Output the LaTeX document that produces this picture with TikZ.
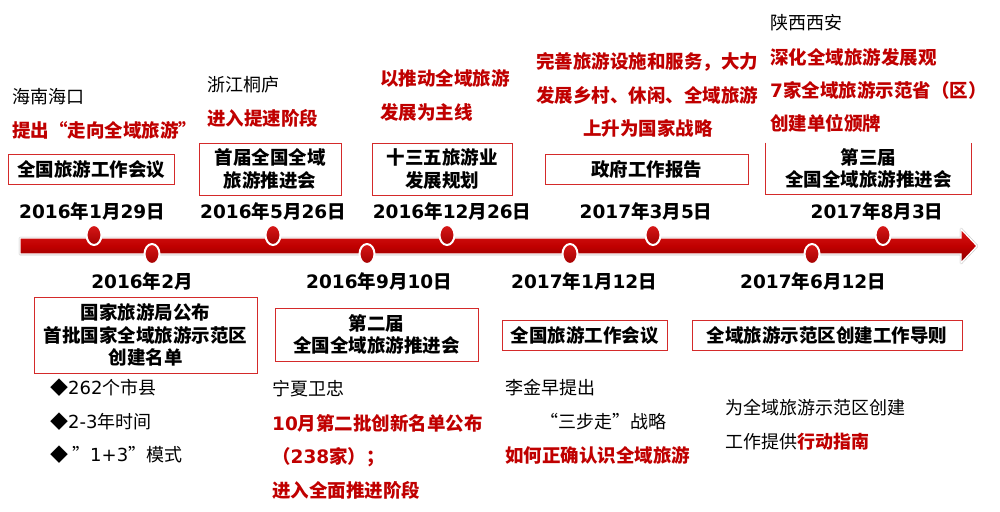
\documentclass[tikz,border=0pt]{standalone}
\usepackage{fontspec}
\setmainfont{Noto Sans CJK SC}
\newfontfamily\dv{DejaVu Sans}
\usetikzlibrary{shapes.geometric}
\definecolor{tred}{HTML}{C00000}
\definecolor{bred}{HTML}{D42A2A}
\definecolor{bartop}{HTML}{D81818}
\definecolor{barbot}{HTML}{8A0000}
\newcommand{\dnum}[1]{{\dv #1}}
\newcommand{\dmy}[3]{\dnum{#1}年\dnum{#2}月\dnum{#3}日}
\tikzset{
 box/.style={draw=bred, line width=1pt, inner sep=0pt, align=center,
   font=\fontsize{18.5}{22.5}\selectfont\bfseries},
 datelbl/.style={font=\fontsize{18.5}{22}\selectfont\bfseries, inner sep=0pt},
 plain/.style={anchor=west, inner sep=0pt, font=\fontsize{18}{22}\selectfont},
 redb/.style={anchor=west, inner sep=0pt, text=tred, font=\fontsize{18.5}{22}\selectfont\bfseries},
 dot/.style={ellipse, minimum width=15pt, minimum height=20pt, inner sep=0pt,
   draw=white, line width=2pt, top color=bartop, bottom color=tred!85!black},
}
\begin{document}
\begin{tikzpicture}[x=1pt,y=-1pt]
\useasboundingbox[fill=white] (0,0) rectangle (1000,511);
% ---- timeline bar ----
\coordinate (b1) at (20,238);
\coordinate (b2) at (961,238);
\coordinate (b3) at (961,229);
\coordinate (b4) at (977,246);
\coordinate (b5) at (961,263);
\coordinate (b6) at (961,254);
\coordinate (b7) at (20,254);
\begin{scope}[shift={(1.2,1.8)}]
\draw[black!22, line width=2.5pt, line join=round] (b1) -- (b2) -- (b3) -- (b4) -- (b5) -- (b6) -- (b7) -- cycle;
\end{scope}
\draw[white, line width=1.3pt, top color=bartop, bottom color=barbot, middle color=tred]
  (b1) -- (b2) -- (b3) -- (b4) -- (b5) -- (b6) -- (b7) -- cycle;
% ---- dots ----
\node[dot] (d1) at (94,235) {};
\node[dot] (d2) at (152,254) {};
\node[dot] (d3) at (273,235) {};
\node[dot] (d4) at (367,254) {};
\node[dot] (d5) at (447,235) {};
\node[dot] (d6) at (570,254) {};
\node[dot] (d7) at (653,235) {};
\node[dot] (d8) at (812,254) {};
\node[dot] (d9) at (883,235) {};
% ---- dates ----
\node[datelbl] (t1) at (92,211) {\dmy{2016}{1}{29}};
\node[datelbl] (t3) at (273,211) {\dmy{2016}{5}{26}};
\node[datelbl] (t5) at (452,211) {\dmy{2016}{12}{26}};
\node[datelbl] (t7) at (646,211) {\dmy{2017}{3}{5}};
\node[datelbl] (t9) at (877,211) {\dmy{2017}{8}{3}};
\node[datelbl] (t2) at (142,281) {\dnum{2016}年\dnum{2}月};
\node[datelbl] (t4) at (379,281) {\dmy{2016}{9}{10}};
\node[datelbl] (t6) at (584,281) {\dmy{2017}{1}{12}};
\node[datelbl] (t8) at (813,281) {\dmy{2017}{6}{12}};
% ---- top boxes ----
\node[box, minimum width=166pt, minimum height=30pt] (bA) at (91,169) {全国旅游工作会议};
\node[box, minimum width=142pt, minimum height=52pt] (bB) at (270,169) {首届全国全域\\旅游推进会};
\node[box, minimum width=140pt, minimum height=52pt] (bC) at (442,169) {十三五旅游业\\发展规划};
\node[box, minimum width=203pt, minimum height=30pt] (bD) at (646.5,169) {政府工作报告};
\node[box, draw=none, minimum width=205pt, minimum height=51pt] (bE) at (868.5,168.5) {第三届\\全国全域旅游推进会};
\draw[bred, line width=1pt] (bE.north west) -- (bE.south west) -- (bE.south east) -- (bE.north east);
% ---- bottom boxes ----
\node[box, minimum width=223pt, minimum height=76pt] (bF) at (145.5,335) {国家旅游局公布\\首批国家全域旅游示范区\\创建名单};
\node[box, minimum width=203pt, minimum height=53pt] (bG) at (376.5,334.5) {第二届\\全国全域旅游推进会};
\node[box, minimum width=165pt, minimum height=30pt] (bH) at (584.5,335) {全国旅游工作会议};
\node[box, minimum width=270pt, minimum height=30pt] (bI) at (827,335) {全域旅游示范区创建工作导则};
% ---- top annotations ----
\node[plain] (a1) at (12,97) {海南海口};
\node[redb] (a2) at (12,130) {提出“走向全域旅游”};
\node[plain] (a3) at (207,85) {浙江桐庐};
\node[redb] (a4) at (207,118) {进入提速阶段};
\node[redb] (a5) at (380,78) {以推动全域旅游};
\node[redb] (a6) at (380,112) {发展为主线};
\node[redb] (a7) at (536,62) {完善旅游设施和服务，大力};
\node[redb] (a8) at (536,95) {发展乡村、休闲、全域旅游};
\node[redb] (a9) at (583,128) {上升为国家战略};
\node[plain] (a10) at (770,23) {陕西西安};
\node[redb] (a11) at (770,57) {深化全域旅游发展观};
\node[redb] (a12) at (770,90) {\dnum{7}家全域旅游示范省（区）};
\node[redb] (a13) at (770,123) {创建单位颁牌};
% ---- bottom annotations ----
\node[plain] (c1) at (50,388) {◆\dnum{262}个市县};
\node[plain] (c2) at (50,422) {◆\dnum{2-3}年时间};
\node[plain] (c3) at (50,455) {◆ ”\dnum{1+3}”模式};
\node[plain] (c4) at (272,389) {宁夏卫忠};
\node[redb] (c5) at (272,423) {\dnum{10}月第二批创新名单公布};
\node[redb] (c6) at (272,457) {（\dnum{238}家）；};
\node[redb] (c7) at (272,490) {进入全面推进阶段};
\node[plain] (c8) at (505,388) {李金早提出};
\node[plain] (c9) at (540,422) {“三步走”战略};
\node[redb] (c10) at (505,455) {如何正确认识全域旅游};
\node[plain] (c11) at (725,408) {为全域旅游示范区创建};
\node[plain] (c12) at (725,442) {工作提供{\color{tred}\bfseries 行动指南}};
\end{tikzpicture}
\end{document}
